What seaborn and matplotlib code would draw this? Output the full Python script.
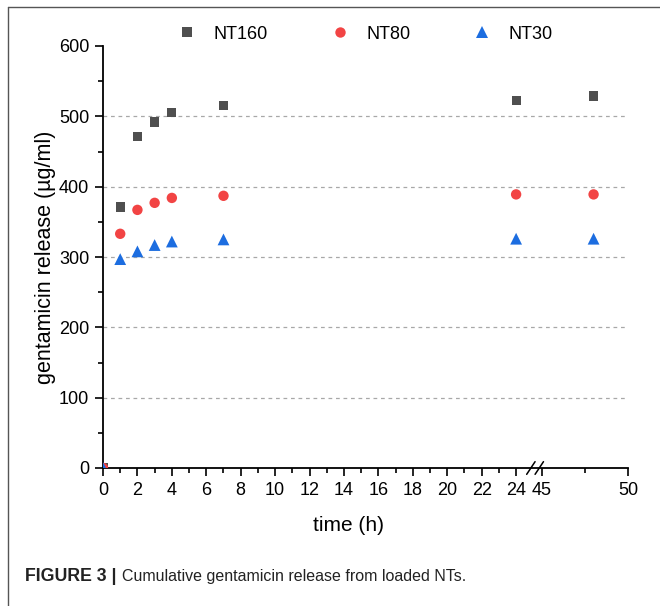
import numpy as np
import pandas as pd
import seaborn as sns
import matplotlib.pyplot as plt
from matplotlib.lines import Line2D

sns.set_style("ticks")
plt.rcParams['font.family'] = ['Liberation Sans', 'DejaVu Sans']
plt.rcParams['text.color'] = 'black'
plt.rcParams['axes.labelcolor'] = 'black'
plt.rcParams['xtick.color'] = 'black'
plt.rcParams['ytick.color'] = 'black'
plt.rcParams['axes.edgecolor'] = 'black'

time_h = [0, 1, 2, 3, 4, 7, 24, 48]
nt160 = [0, 371, 471, 492, 505, 515, 522, 529]
nt80 = [0, 333, 367, 377, 384, 387, 389, 389]
nt30 = [0, 297, 308, 317, 322, 325, 326, 326]
series_names = ["NT160", "NT80", "NT30"]

xticks = [0, 2, 4, 6, 8, 10, 12, 14, 16, 18, 20, 22, 24, 45, 50]
xminor = [1, 3, 5, 7, 9, 11, 13, 15, 17, 19, 21, 23, 47.5]
yticks = [0, 100, 200, 300, 400, 500, 600]
grid_y = [100, 200, 300, 400, 500]

df = pd.DataFrame({
    "time": time_h * 3,
    "release": nt160 + nt80 + nt30,
    "sample": [n for n in series_names for _ in time_h],
})

colors = {"NT160": "#4f4f4f", "NT80": "#f24444", "NT30": "#1c6de0"}
markers = {"NT160": "s", "NT80": "o", "NT30": "^"}
sizes = {"NT160": 44, "NT80": 56, "NT30": 72}


# broken x axis: 0-24 then 45-50, the gap squeezed into 1.5 units
def fwd(x):
    x = np.asarray(x, dtype=float)
    return np.where(x <= 24, x, np.where(x >= 45, x - 19.5, 24 + (x - 24) * 1.5 / 21))


def inv(y):
    y = np.asarray(y, dtype=float)
    return np.where(y <= 24, y, np.where(y >= 25.5, y + 19.5, 24 + (y - 24) * 21 / 1.5))


fig = plt.figure(figsize=(6.6, 6.06), dpi=100)
ax = fig.add_axes([103 / 660, 138 / 606, 525 / 660, 422 / 606])

# dashed reference lines behind the points
ax.hlines(grid_y, 0, 50, colors="#a8a8a8", linestyles=(0, (3, 3)), linewidth=0.9, zorder=0)

sns.scatterplot(data=df, x="time", y="release", hue="sample", style="sample", size="sample",
                palette=colors, markers=markers, sizes=sizes, linewidth=0, ax=ax, zorder=3)

ax.set_xscale("function", functions=(fwd, inv))
ax.set_xlim(0, 50)
ax.set_ylim(0, 600)
ax.set_xticks(xticks)
ax.set_xticks(xminor, minor=True)
ax.set_xticklabels([str(t) for t in xticks])
ax.set_yticks(yticks)
ax.set_yticks(range(50, 600, 100), minor=True)

sns.despine(ax=ax)
for s in ["left", "bottom"]:
    ax.spines[s].set_linewidth(1.3)
ax.tick_params(axis="both", which="major", length=6, width=1.2, labelsize=13, pad=4, direction="out")
ax.tick_params(axis="both", which="minor", length=3.5, width=1.2, direction="out")

ax.set_xlabel("time (h)", fontsize=15)
ax.set_ylabel("gentamicin release (\u00b5g/ml)", fontsize=15.5, labelpad=2)
ax.xaxis.set_label_coords(0.467, -0.113)

# break marks on the x axis
for xc in [0.815, 0.831]:
    ax.plot([xc - 0.008, xc + 0.008], [-0.015, 0.015], transform=ax.transAxes,
            color="black", lw=1.1, clip_on=False)

sns.move_legend(ax, "center", bbox_to_anchor=(0.5, 1.028), ncol=3, frameon=False,
                title=None, fontsize=13, handlelength=1, handletextpad=0.95, columnspacing=3.5)

# caption and the page frame
fig.text(25 / 660, 0.048, "FIGURE 3 |", fontsize=12.8, fontweight="bold", color="#222222", va="center")
fig.text(122 / 660, 0.048, "Cumulative gentamicin release from loaded NTs.", fontsize=11.5,
         color="#222222", va="center")
fig.add_artist(Line2D([8 / 660, 8 / 660], [0, 599 / 606], color="#555555", lw=1))
fig.add_artist(Line2D([8 / 660, 1], [599 / 606, 599 / 606], color="#555555", lw=1))

fig.savefig("out.png", dpi=100)
